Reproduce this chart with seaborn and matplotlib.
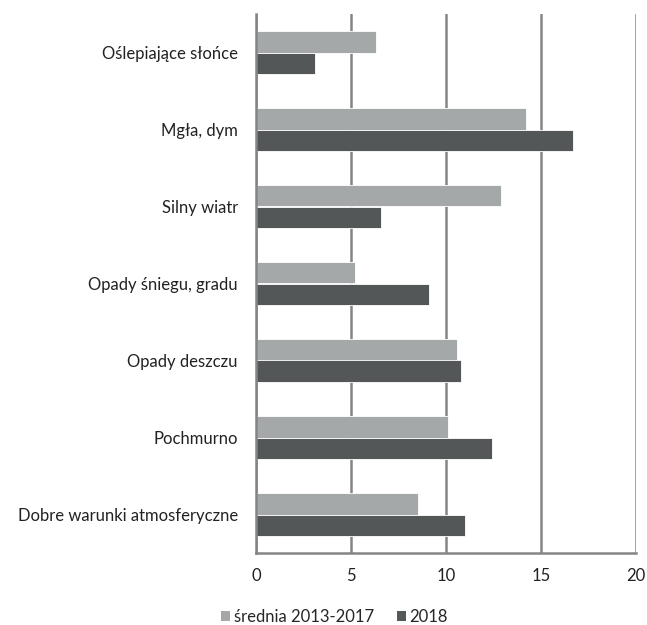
import matplotlib
matplotlib.use("Agg")
import matplotlib.pyplot as plt
import seaborn as sns
import pandas as pd
import numpy as np
from matplotlib.patches import Patch

categories = ["Oślepiające słońce", "Mgła, dym", "Silny wiatr", "Opady śniegu, gradu",
              "Opady deszczu", "Pochmurno", "Dobre warunki atmosferyczne"]
series_names = ["średnia 2013-2017", "2018"]
avg_2013_2017 = [6.3, 14.2, 12.9, 5.2, 10.6, 10.1, 8.5]
values_2018 = [3.1, 16.7, 6.6, 9.1, 10.8, 12.4, 11.0]
x_ticks = [0, 5, 10, 15, 20]

df = pd.DataFrame({
    "kategoria": categories * 2,
    "seria": [series_names[0]] * len(categories) + [series_names[1]] * len(categories),
    "wartosc": avg_2013_2017 + values_2018,
})

sns.set_style("white")
plt.rcParams["font.family"] = ["Lato", "DejaVu Sans"]

colors = ["#A5A8A8", "#535858"]
grid_c = "#858585"
text_c = "#222222"

fig = plt.figure(figsize=(6.47, 6.25), dpi=100)
ax = fig.add_axes([0.3957, 0.1152, 0.5873, 0.8624])

sns.barplot(data=df, x="wartosc", y="kategoria", hue="seria", order=categories,
            hue_order=series_names, palette=colors, orient="h", width=0.56,
            edgecolor="white", linewidth=0.6, legend=False, ax=ax)

ax.set_xlim(0, 20)
ax.set_ylim(len(categories) - 0.5, -0.5)
ax.set_xticks(x_ticks)
ax.set_xticklabels([str(t) for t in x_ticks], fontsize=12, color=text_c)
ax.set_axisbelow(True)
ax.xaxis.grid(True, color=grid_c, linewidth=1.8)
ax.yaxis.grid(False)

for s in ["top", "right"]:
    ax.spines[s].set_visible(False)
for s in ["left", "bottom"]:
    ax.spines[s].set_color(grid_c)
    ax.spines[s].set_linewidth(1.8)

ax.set_yticks(range(len(categories)))
ax.set_yticklabels(categories, fontsize=12, color=text_c)
ax.set_yticks(np.arange(-0.5, len(categories), 1), minor=True)
ax.tick_params(axis="y", which="major", length=0, pad=13)
ax.tick_params(axis="y", which="minor", length=6, width=1.8, color=grid_c, direction="out")
ax.tick_params(axis="x", which="major", length=6, width=1.8, color=grid_c, direction="out", pad=5)
ax.set_xlabel("")
ax.set_ylabel("")

handles = [Patch(facecolor=c, edgecolor="none") for c in colors]
fig.legend(handles, series_names, loc="center", bbox_to_anchor=(0.517, 0.013), ncol=2,
           frameon=False, fontsize=12, handlelength=0.55, handleheight=0.55,
           handletextpad=0.2, columnspacing=1.4, borderaxespad=0, borderpad=0)

fig.savefig("out.png", dpi=100)
